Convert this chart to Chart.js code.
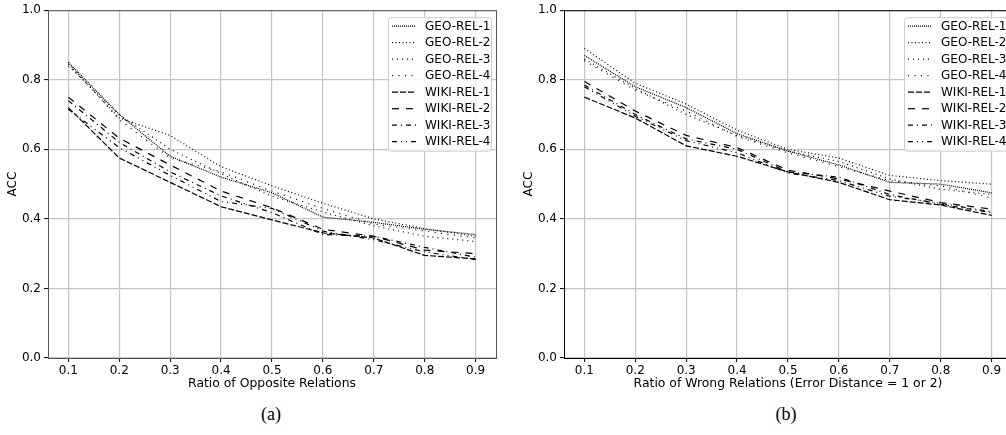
<!DOCTYPE html>
<html lang="en">
<head>
<meta charset="UTF-8">
<title>ACC vs ratio of noisy relations</title>
<script src="https://cdn.jsdelivr.net/npm/chart.js"></script>
<style>
  html, body { margin: 0; padding: 0; background: #fff; overflow: hidden; }
  body { width: 1006px; height: 435px; position: relative; }
  canvas { position: absolute; top: 0; }
  #chartA { left: 0; }
  #chartB { left: 516px; }
  .caption { position: absolute; top: 404px; width: 60px; text-align: center;
             font-family: "Liberation Serif", "DejaVu Serif", serif; font-size: 18px; color: #000; }
</style>
</head>
<body>

<canvas id="chartA" width="520" height="400"></canvas>
<canvas id="chartB" width="520" height="400"></canvas>
<div class="caption" style="left:241px">(a)</div>
<div class="caption" style="left:756px">(b)</div>

<script>
// x positions and tick labels
const ratios = [0.1, 0.2, 0.3, 0.4, 0.5, 0.6, 0.7, 0.8, 0.9];
const yTicks = [0.0, 0.2, 0.4, 0.6, 0.8, 1.0];
const seriesNames = ['GEO-REL-1', 'GEO-REL-2', 'GEO-REL-3', 'GEO-REL-4',
                     'WIKI-REL-1', 'WIKI-REL-2', 'WIKI-REL-3', 'WIKI-REL-4'];

// (a) ratio of opposite relations
const geo1A  = [0.850, 0.700, 0.580, 0.520, 0.475, 0.405, 0.390, 0.370, 0.355];
const geo2A  = [0.845, 0.690, 0.640, 0.550, 0.495, 0.445, 0.400, 0.372, 0.350];
const geo3A  = [0.840, 0.700, 0.600, 0.530, 0.465, 0.420, 0.380, 0.350, 0.335];
const geo4A  = [0.850, 0.685, 0.575, 0.535, 0.480, 0.430, 0.385, 0.365, 0.345];
const wiki1A = [0.720, 0.575, 0.505, 0.435, 0.397, 0.360, 0.345, 0.295, 0.285];
const wiki2A = [0.750, 0.632, 0.555, 0.480, 0.432, 0.370, 0.350, 0.310, 0.300];
const wiki3A = [0.740, 0.620, 0.535, 0.466, 0.418, 0.355, 0.350, 0.318, 0.290];
const wiki4A = [0.715, 0.605, 0.525, 0.450, 0.430, 0.365, 0.340, 0.305, 0.283];

// (b) ratio of wrong relations (error distance = 1 or 2)
const geo1B  = [0.870, 0.780, 0.720, 0.645, 0.595, 0.555, 0.505, 0.500, 0.475];
const geo2B  = [0.890, 0.790, 0.730, 0.655, 0.600, 0.575, 0.525, 0.510, 0.500];
const geo3B  = [0.860, 0.775, 0.700, 0.640, 0.595, 0.565, 0.515, 0.485, 0.470];
const geo4B  = [0.855, 0.770, 0.710, 0.637, 0.590, 0.550, 0.510, 0.495, 0.460];
const wiki1B = [0.750, 0.690, 0.610, 0.580, 0.535, 0.505, 0.455, 0.440, 0.410];
const wiki2B = [0.795, 0.710, 0.640, 0.605, 0.540, 0.515, 0.480, 0.447, 0.428];
const wiki3B = [0.785, 0.700, 0.630, 0.600, 0.535, 0.520, 0.470, 0.442, 0.418];
const wiki4B = [0.780, 0.695, 0.625, 0.590, 0.532, 0.510, 0.465, 0.445, 0.420];

// line styles, same order as seriesNames
const dashes = [[1, 1], [1, 2.5], [1, 4], [1, 5.5], [6, 2], [7, 7], [5, 4, 1, 4], [5, 4, 1, 4, 1, 4]];

const FONT = 'DejaVu Sans';

// matplotlib-like framed legend in the upper right of the plot
const boxLegend = {
  id: 'boxLegend',
  afterDraw(chart) {
    const ctx = chart.ctx, area = chart.chartArea;
    const dsets = chart.data.datasets;
    const w = 103, rowH = 16.5, h = 9 + rowH * (dsets.length - 1) + 9;
    const x0 = area.right - 5 - w, y0 = area.top + 7;
    ctx.save();
    ctx.beginPath();
    ctx.roundRect(x0 + 0.5, y0 + 0.5, w, h, 3);
    ctx.fillStyle = 'rgba(255,255,255,0.8)';
    ctx.fill();
    ctx.strokeStyle = '#cccccc';
    ctx.lineWidth = 1;
    ctx.stroke();
    ctx.font = '12px ' + FONT;
    ctx.textBaseline = 'middle';
    ctx.fillStyle = '#000';
    dsets.forEach((ds, i) => {
      const y = y0 + 9 + i * rowH;
      ctx.beginPath();
      ctx.setLineDash(ds.borderDash);
      ctx.lineWidth = ds.borderWidth;
      ctx.strokeStyle = ds.borderColor;
      ctx.moveTo(x0 + 4, y);
      ctx.lineTo(x0 + 28, y);
      ctx.stroke();
      ctx.setLineDash([]);
      ctx.fillText(ds.label, x0 + 37, y + 0.5);
    });
    ctx.restore();
  }
};

// top and right spines
const frame = {
  id: 'frame',
  afterDatasetsDraw(chart, args, opts) {
    const ctx = chart.ctx, a = chart.chartArea;
    ctx.save();
    ctx.strokeStyle = opts.color;
    ctx.lineWidth = 1;
    ctx.strokeRect(a.left + 0.5, a.top + 0.5, a.right - a.left, a.bottom - a.top);
    ctx.restore();
  }
};

function makeChart(id, series, xTitle, spine) {
  new Chart(document.getElementById(id), {
    type: 'line',
    data: {
      datasets: series.map((vals, i) => ({
        label: seriesNames[i],
        data: ratios.map((x, j) => ({ x: x, y: vals[j] })),
        borderColor: '#000',
        borderWidth: 1.2,
        borderDash: dashes[i],
        pointRadius: 0,
        fill: false,
        tension: 0
      }))
    },
    options: {
      responsive: false,
      animation: false,
      devicePixelRatio: 1,
      layout: { padding: { top: 8, right: 24, left: 0, bottom: 0 } },
      plugins: {
        legend: { display: false },
        tooltip: { enabled: false },
        frame: { color: spine }
      },
      scales: {
        x: {
          type: 'linear',
          min: 0.06,
          max: 0.94,
          afterBuildTicks: s => { s.ticks = ratios.map(v => ({ value: v })); },
          afterFit: s => { s.height = 42; },
          ticks: { callback: v => v.toFixed(1), color: '#000', font: { family: FONT, size: 12 }, padding: 2, maxRotation: 0 },
          grid: { color: '#c4c4c4', lineWidth: 1.2, tickLength: 4, tickColor: '#000', tickWidth: 1 },
          border: { color: spine, width: 1 },
          title: { display: true, text: xTitle, color: '#000', font: { family: FONT, size: 12.4 }, padding: { top: 0, bottom: 9 } }
        },
        y: {
          min: 0,
          max: 1,
          afterBuildTicks: s => { s.ticks = yTicks.map(v => ({ value: v })); },
          afterFit: s => { s.width = 48; },
          ticks: { callback: v => v.toFixed(1), color: '#000', font: { family: FONT, size: 12 }, padding: 3 },
          grid: { color: '#c4c4c4', lineWidth: 1.2, tickLength: 4, tickColor: '#000', tickWidth: 1 },
          border: { color: spine, width: 1 },
          title: { display: true, text: 'ACC', color: '#000', font: { family: FONT, size: 12 }, padding: { top: 6, bottom: 0 } }
        }
      }
    },
    plugins: [frame, boxLegend]
  });
}

makeChart('chartA', [geo1A, geo2A, geo3A, geo4A, wiki1A, wiki2A, wiki3A, wiki4A],
          'Ratio of Opposite Relations', '#555');
makeChart('chartB', [geo1B, geo2B, geo3B, geo4B, wiki1B, wiki2B, wiki3B, wiki4B],
          'Ratio of Wrong Relations (Error Distance = 1 or 2)', '#000');
</script>

</body>
</html>
